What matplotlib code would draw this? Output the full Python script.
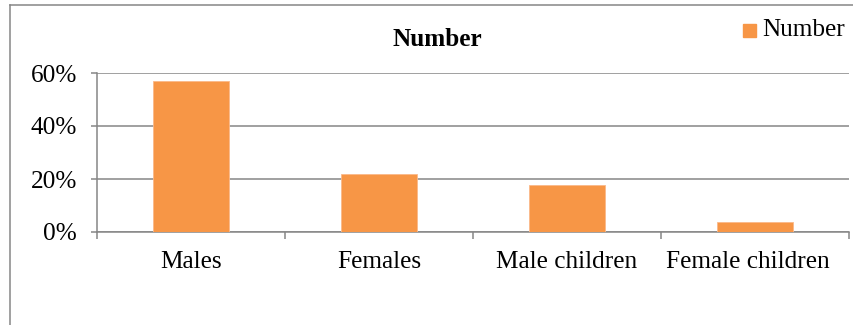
import matplotlib
matplotlib.use("Agg")
import matplotlib.pyplot as plt
import matplotlib.transforms as mtransforms
from matplotlib.ticker import FuncFormatter, FixedLocator
from matplotlib.patches import Rectangle
from matplotlib.lines import Line2D

categories = ["Males", "Females", "Male children", "Female children"]
shares = [0.569, 0.218, 0.178, 0.038]
y_ticks = [0.0, 0.2, 0.4, 0.6]
series_name = "Number"

BAR = "#F79646"
GRID = "#868686"
FS = 18.2
plt.rcParams["font.family"] = ["Liberation Serif", "DejaVu Serif"]

fig = plt.figure(figsize=(8.54, 3.25), dpi=100)

# outer chart frame (top and left edges)
fig.add_artist(Line2D([10 / 854, 10 / 854], [0, 1 - 4.5 / 325],
                      transform=fig.transFigure, color=GRID, lw=1.1))
fig.add_artist(Line2D([10 / 854, 1.0], [1 - 4.5 / 325, 1 - 4.5 / 325],
                      transform=fig.transFigure, color=GRID, lw=1.1))

ax = fig.add_axes([97 / 854, 93 / 325, 752 / 854, 159 / 325])
x = list(range(len(categories)))
ax.bar(x, shares, width=0.4, color=BAR, edgecolor="#FBB98A", linewidth=0.6, zorder=3)

ax.set_xlim(-0.5, len(categories) - 0.5)
ax.set_ylim(0, 0.6)
ax.set_yticks(y_ticks)
ax.yaxis.set_major_formatter(FuncFormatter(lambda v, _: f"{v * 100:.0f}%"))
ax.yaxis.grid(True, color=GRID, linewidth=1.1, zorder=0)
ax.set_axisbelow(True)

ax.set_xticks(x)
ax.set_xticklabels(categories)
ax.xaxis.set_minor_locator(FixedLocator([i - 0.5 for i in range(len(categories) + 1)]))
ax.tick_params(axis="x", which="major", length=0, pad=14, labelsize=FS)
ax.tick_params(axis="x", which="minor", length=5, width=1.1, color=GRID, direction="out")
ax.tick_params(axis="y", length=4.5, width=1.1, color=GRID, pad=10, labelsize=FS)

# keep the last category label clear of the right edge
last = ax.get_xticklabels()[-1]
last.set_transform(last.get_transform() +
                   mtransforms.ScaledTranslation(-7 / 100, 0, fig.dpi_scale_trans))

for side in ("top", "right"):
    ax.spines[side].set_visible(False)
for side in ("left", "bottom"):
    ax.spines[side].set_color(GRID)
    ax.spines[side].set_linewidth(1.1)

fig.text(437 / 854, 1 - 40 / 325, series_name, ha="center", va="center",
         fontsize=FS, fontweight="bold")

# legend entry
fig.add_artist(Rectangle((743 / 854, 1 - 37 / 325), 13 / 854, 13 / 325,
                         transform=fig.transFigure, color=BAR))
fig.text(762 / 854, 1 - 30.5 / 325, series_name, ha="left", va="center", fontsize=FS)

fig.savefig("out.png", dpi=100)
